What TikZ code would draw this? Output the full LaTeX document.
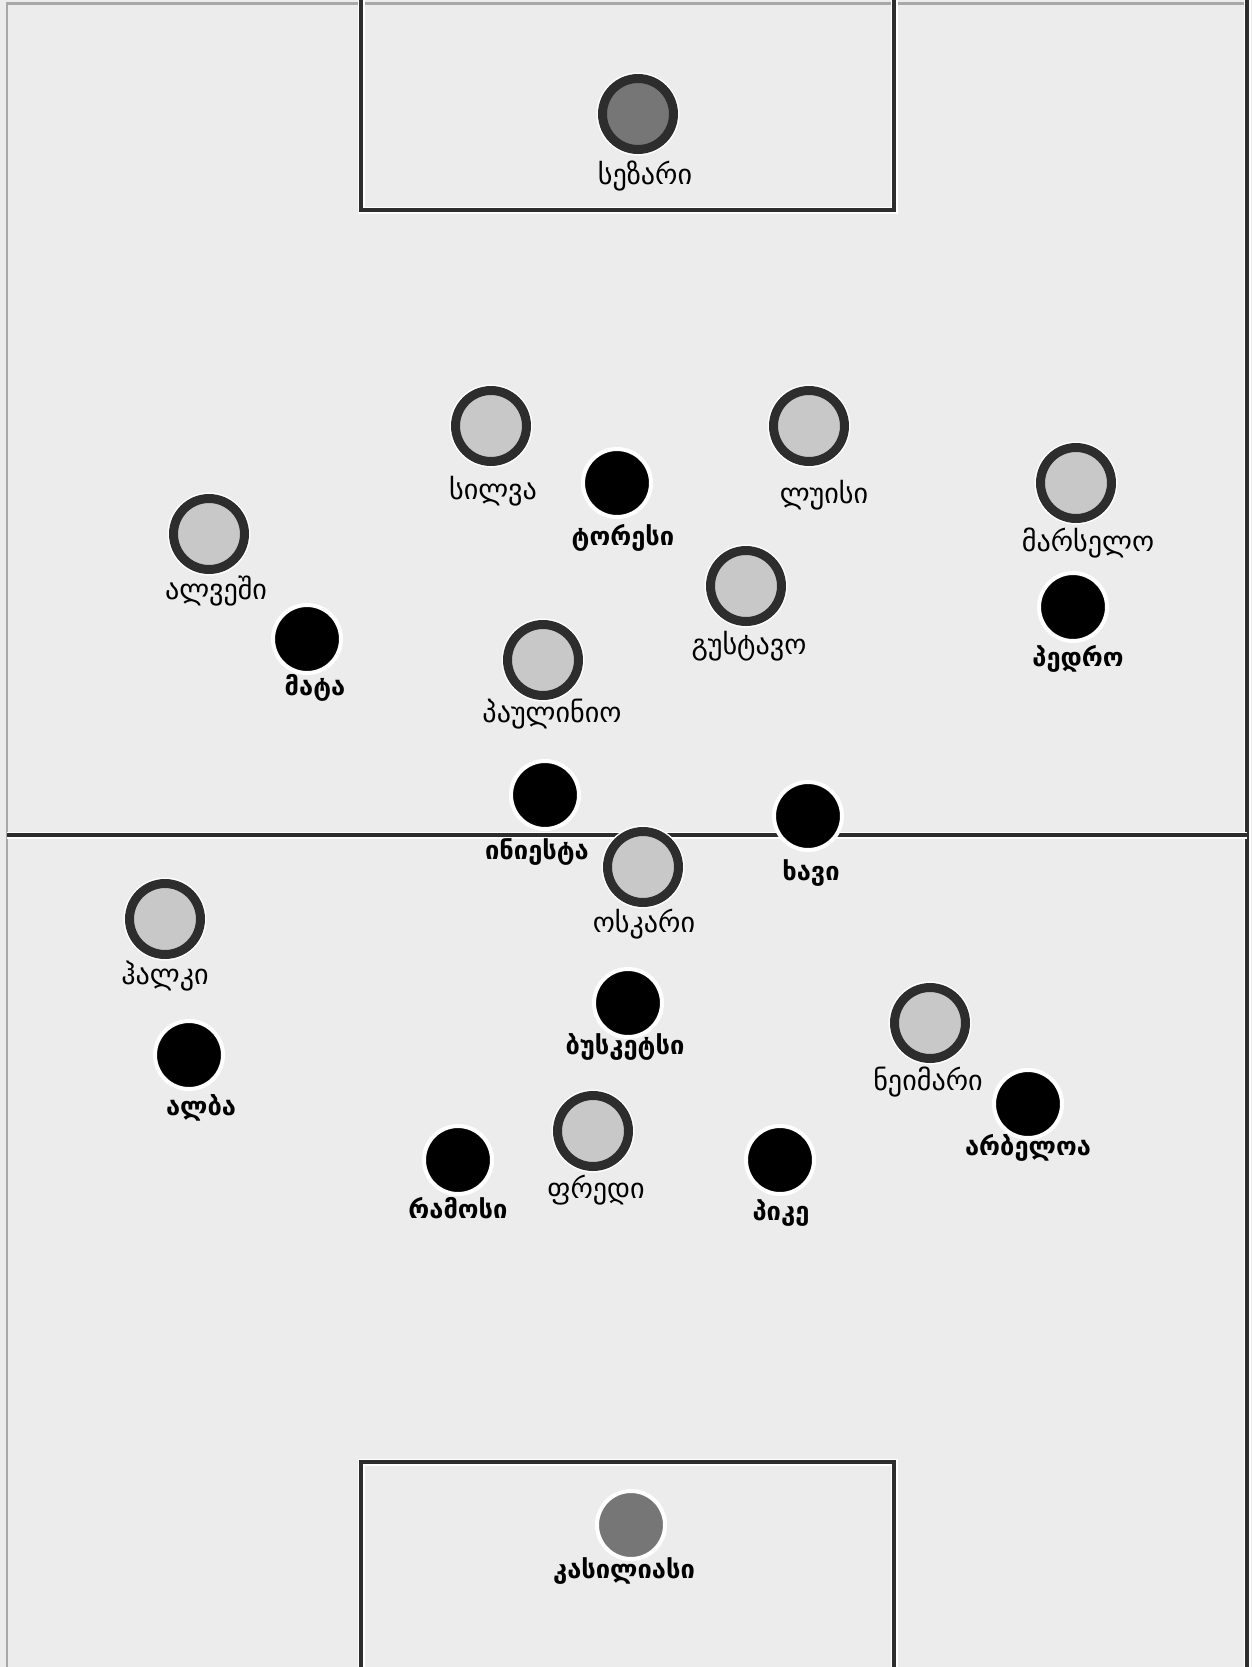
\documentclass[tikz,border=0pt]{standalone}
\usepackage{fontspec}
\setmainfont{DejaVu Sans}
\definecolor{Pitch}{RGB}{236,236,236}
\definecolor{LineDark}{RGB}{45,45,45}
\definecolor{LineGray}{RGB}{168,168,168}
\definecolor{ShirtGray}{RGB}{200,200,200}
\definecolor{KeeperGray}{RGB}{118,118,118}
\tikzset{
  pitchline/.style={draw=LineDark,line width=0.8mm,preaction={draw=white,line width=1.4mm}},
  edgeline/.style={draw=LineGray,line width=0.6mm},
  ringplayer/.style={circle,draw=LineDark,fill=ShirtGray,line width=1.8mm,minimum size=14.2mm,inner sep=0pt,preaction={draw=white,line width=2.4mm}},
  dotplayer/.style={circle,draw=white,fill=black,line width=0.8mm,minimum size=13.6mm,inner sep=0pt},
  plainname/.style={font=\fontsize{16}{19}\selectfont,inner sep=0pt},
  boldname/.style={font=\fontsize{14.5}{17}\selectfont\bfseries,inner sep=0pt}
}
\begin{document}
\begin{tikzpicture}[x=0.02cm,y=-0.02cm]
\useasboundingbox (0,0) rectangle (1252,1667);
\fill[Pitch] (0,0) rectangle (1252,1667);
\draw[edgeline] (7,1667) -- (7,3) -- (1247,3);
\draw[pitchline] (1247,0) -- (1247,1667);
\draw[pitchline] (7,835) -- (1247,835);
\draw[pitchline] (361,0) -- (361,210) -- (894,210) -- (894,0);
\draw[pitchline] (361,1667) -- (361,1462) -- (894,1462) -- (894,1667);

\node[ringplayer,fill=KeeperGray] (cesar) at (638,114) {};
\node[ringplayer] (silva) at (491,426) {};
\node[dotplayer] (torres) at (617,483) {};
\node[ringplayer] (luis) at (809,426) {};
\node[ringplayer] (marcelo) at (1076,483) {};
\node[ringplayer] (alves) at (209,534) {};
\node[ringplayer] (gustavo) at (746,586) {};
\node[dotplayer] (mata) at (307,639) {};
\node[dotplayer] (pedro) at (1073,607) {};
\node[ringplayer] (paulinho) at (543,660) {};
\node[dotplayer] (iniesta) at (545,795) {};
\node[dotplayer] (xavi) at (808,816) {};
\node[ringplayer] (oscar) at (643,867) {};
\node[ringplayer] (hulk) at (165,919) {};
\node[dotplayer] (busquets) at (628,1003) {};
\node[dotplayer] (alba) at (189,1055) {};
\node[ringplayer] (neymar) at (930,1023) {};
\node[dotplayer] (arbeloa) at (1028,1104) {};
\node[ringplayer] (fred) at (593,1131) {};
\node[dotplayer] (ramos) at (458,1160) {};
\node[dotplayer] (pique) at (780,1160) {};
\node[dotplayer,fill=KeeperGray] (casillas) at (631,1525) {};

\node[plainname] (cesarname) at (645,176) {სეზარი};
\node[plainname] (silvaname) at (493,491) {სილვა};
\node[boldname] (torresname) at (623,538) {ტორესი};
\node[plainname] (luisname) at (824,495) {ლუისი};
\node[plainname] (marceloname) at (1088,543) {მარსელო};
\node[plainname] (alvesname) at (216,591) {ალვეში};
\node[plainname] (gustavoname) at (749,646) {გუსტავო};
\node[boldname] (mataname) at (315,688) {მატა};
\node[boldname] (pedroname) at (1078,659) {პედრო};
\node[plainname] (paulinhoname) at (552,714) {პაულინიო};
\node[boldname] (iniestaname) at (537,852) {ინიესტა};
\node[boldname] (xaviname) at (811,873) {ხავი};
\node[plainname] (oscarname) at (644,924) {ოსკარი};
\node[plainname] (hulkname) at (165,976) {ჰალკი};
\node[boldname] (busquetsname) at (625,1047) {ბუსკეტსი};
\node[boldname] (albaname) at (201,1108) {ალბა};
\node[plainname] (neymarname) at (928,1082) {ნეიმარი};
\node[boldname] (arbeloaname) at (1028,1148) {არბელოა};
\node[plainname] (fredname) at (596,1190) {ფრედი};
\node[boldname] (ramosname) at (458,1208) {რამოსი};
\node[boldname] (piquename) at (781,1213) {პიკე};
\node[boldname] (casillasname) at (624,1571) {კასილიასი};
\end{tikzpicture}
\end{document}
